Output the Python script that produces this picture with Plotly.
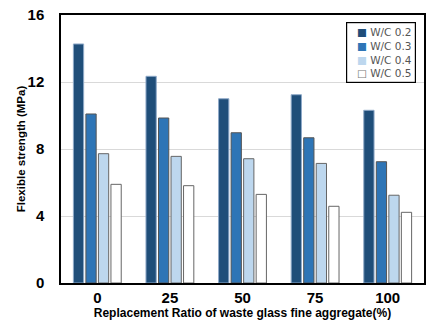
import plotly.graph_objects as go

categories = ["0", "25", "50", "75", "100"]
series_names = ["W/C 0.2", "W/C 0.3", "W/C 0.4", "W/C 0.5"]
wc02 = [14.27, 12.34, 11.0, 11.24, 10.31]
wc03 = [10.09, 9.85, 8.97, 8.67, 7.24]
wc04 = [7.72, 7.56, 7.42, 7.14, 5.24]
wc05 = [5.89, 5.81, 5.29, 4.58, 4.22]
y_ticks = [0, 4, 8, 12, 16]

values = [wc02, wc03, wc04, wc05]
fills = ["#1F4E79", "#2E75B6", "#BDD7EE", "#FFFFFF"]
edges = ["#8EA9C8", "#555555", "#666666", "#666666"]
legend_symbol_colors = ["#1F4E79", "#2E75B6", "#BDD7EE", "#777777"]
legend_symbols = ["■", "■", "■", "□"]

fig = go.Figure()
for name, vals, fc, ec in zip(series_names, values, fills, edges):
    fig.add_trace(go.Bar(
        x=categories, y=vals, name=name, showlegend=False,
        marker=dict(color=fc, line=dict(color=ec, width=1)),
    ))

legend_lines = [
    f"&nbsp;&nbsp;<span style='color:{c}'>{s}</span> {n}"
    for s, c, n in zip(legend_symbols, legend_symbol_colors, series_names)
]
fig.add_annotation(
    xref="paper", yref="paper", x=0.978, y=0.975, xanchor="right", yanchor="top",
    text="<br>".join(legend_lines), showarrow=False, align="left",
    bordercolor="black", borderwidth=1.2, borderpad=3, bgcolor="white",
    font=dict(family="DejaVu Sans", size=10.5, color="#555555"),
)

fig.update_layout(
    width=428, height=323,
    barmode="group", bargap=0.31, bargroupgap=0.18,
    plot_bgcolor="white", paper_bgcolor="white",
    margin=dict(l=61, r=4, t=15, b=40, autoexpand=False),
    font=dict(family="Liberation Sans, Arial", color="black"),
    xaxis=dict(
        type="category", range=[-0.5, 4.5], automargin=False,
        showline=True, linecolor="black", linewidth=1.5, mirror=True,
        ticks="", tickfont=dict(size=15, family="Liberation Sans", weight="bold"),
        title=dict(text="<b>Replacement Ratio of waste glass fine aggregate(%)</b>",
                   font=dict(size=12), standoff=0),
    ),
    yaxis=dict(
        range=[0, 16], tickvals=y_ticks, automargin=False,
        showline=True, linecolor="black", linewidth=1.5, mirror=True,
        showgrid=True, gridcolor="#D9D9D9", gridwidth=1,
        ticks="", ticklabelstandoff=12,
        tickfont=dict(size=15, family="Liberation Sans", weight="bold"),
        title=dict(text="<b>Flexible strength (MPa)</b>", font=dict(size=11.5), standoff=0),
        zeroline=False,
    ),
)

fig.write_html("out.html", config={"displayModeBar": False},
               post_script="document.body.style.margin='0';")
